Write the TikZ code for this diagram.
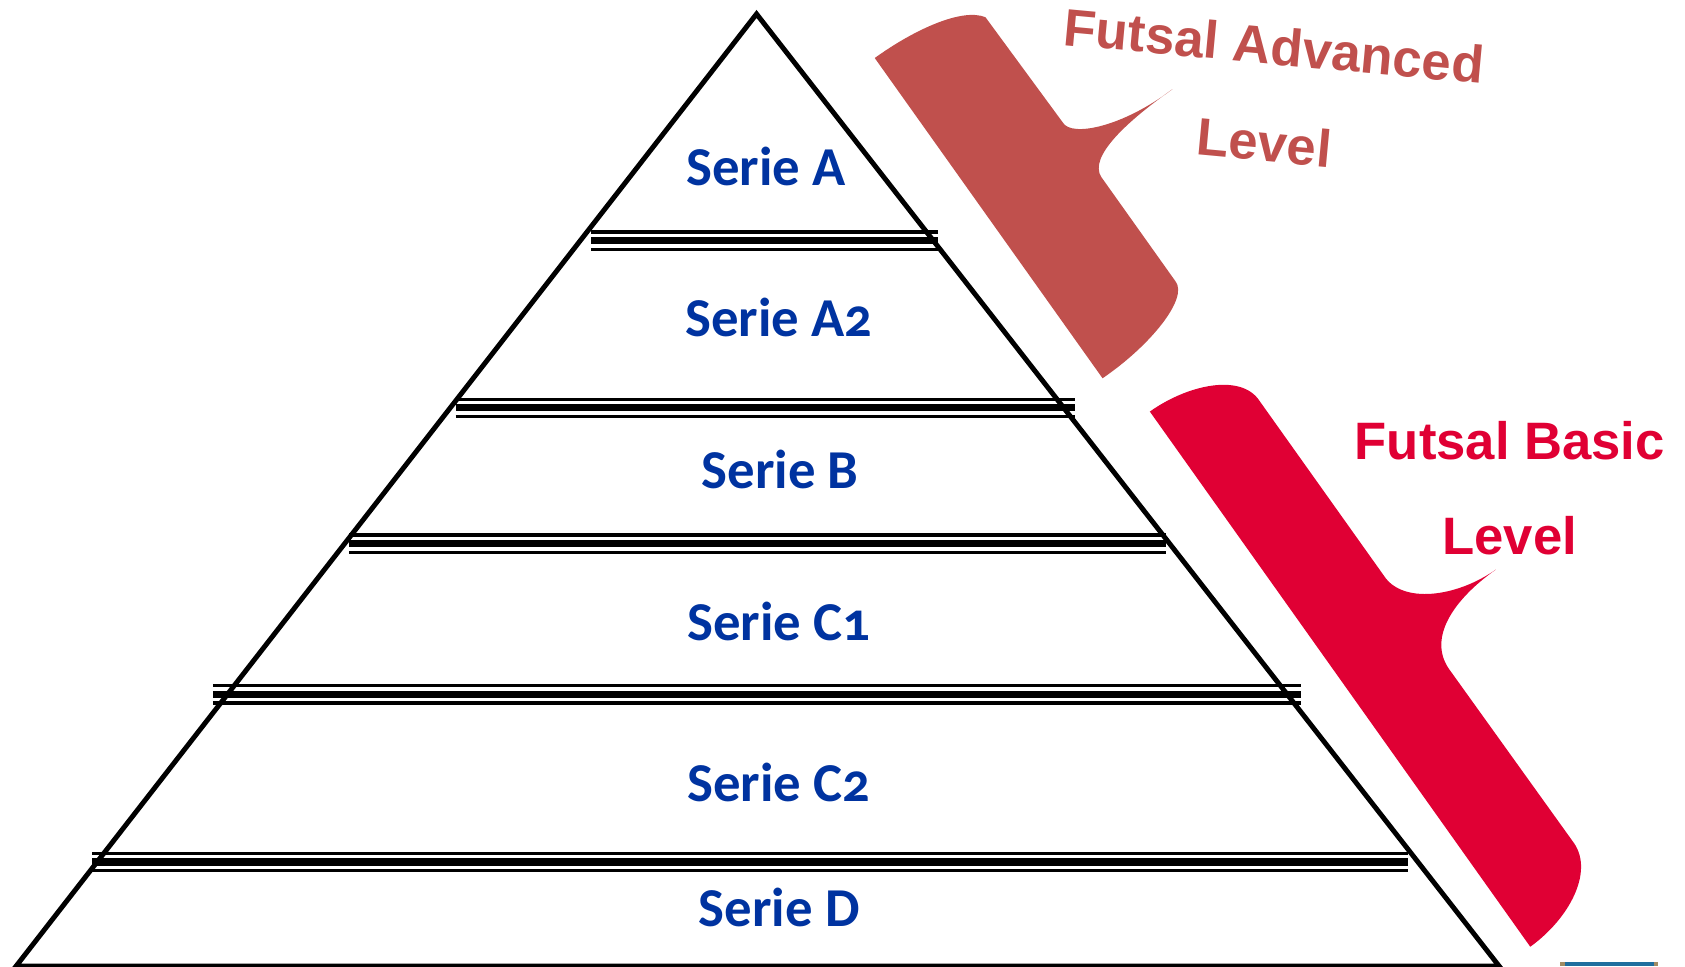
\documentclass[tikz,border=0pt]{standalone}
\usepackage{fontspec}
\setmainfont{Liberation Sans}
\newfontfamily\seriefont[Numbers=OldStyle]{Carlito}
\definecolor{serieblue}{HTML}{0033A0}
\definecolor{advbrown}{HTML}{C0504D}
\definecolor{basicred}{HTML}{E00034}
\definecolor{sliverblue}{HTML}{1F6E9E}
\definecolor{slivertan}{HTML}{A08C64}
\tikzset{
  pyr/.style={draw=black,line width=2.3pt,line join=miter},
  thinbar/.style={draw=black,line width=1.6pt},
  thickbar/.style={draw=black,line width=3.4pt},
  serie/.style={font=\seriefont\bfseries\fontsize{25.5}{28}\selectfont,text=serieblue,anchor=base,inner sep=0pt},
  adv/.style={font=\bfseries\fontsize{24.5}{28}\selectfont,text=advbrown,anchor=base,inner sep=0pt,rotate=-5.3},
  bas/.style={font=\bfseries\fontsize{24.5}{28}\selectfont,text=basicred,anchor=base,inner sep=0pt},
}
\newcommand{\tribar}[3]{%
  \draw[thinbar] (#1,#3-8) -- (#2,#3-8);
  \draw[thickbar] (#1,#3) -- (#2,#3);
  \draw[thinbar] (#1,#3+8) -- (#2,#3+8);}
\begin{document}
\begin{tikzpicture}[x=0.5pt,y=-0.5pt]
\useasboundingbox (0,0) rectangle (1568,899);
\coordinate (apex) at (704,13);
\coordinate (bl) at (15,899);
\coordinate (br) at (1395,899);
\draw[pyr] (apex) -- (bl) -- (br) -- cycle;
\tribar{550}{873}{224}
\tribar{424}{1000}{379.5}
\tribar{325}{1085}{506}
\tribar{198}{1211}{646}
\tribar{86}{1310}{802}
\node[serie] (sa) at (713,173) {Serie A};
\node[serie] (sa2) at (725,313) {Serie A2};
\node[serie] (sb) at (726,455) {Serie B};
\node[serie] (sc1) at (725,596) {Serie C1};
\node[serie] (sc2) at (725,746) {Serie C2};
\node[serie] (sd) at (725,862) {Serie D};
\fill[advbrown] (814,54) .. controls (850,28) and (895,7) .. (917,16) -- (989,114) .. controls (997,128) and (1045,118) .. (1091,83) .. controls (1050,112) and (1012,146) .. (1025,165) -- (1094,262) .. controls (1106,278) and (1070,322) .. (1026,352) -- cycle;
\fill[basicred] (1070,383) .. controls (1105,358) and (1155,347) .. (1172,373) -- (1288,536) .. controls (1305,562) and (1355,556) .. (1392,530) .. controls (1355,556) and (1328,592) .. (1348,622) -- (1465,785) .. controls (1483,812) and (1460,855) .. (1424,881) -- cycle;
\node[adv] (fa) at (1184,60) {Futsal Advanced};
\node[adv] (la) at (1175,150) {Level};
\node[bas] (fb) at (1405,428) {Futsal Basic};
\node[bas] (lb) at (1405,516) {Level};
\fill[slivertan] (1452,895) rectangle (1543,899);
\fill[sliverblue] (1456,895) rectangle (1539,899);
\end{tikzpicture}
\end{document}
